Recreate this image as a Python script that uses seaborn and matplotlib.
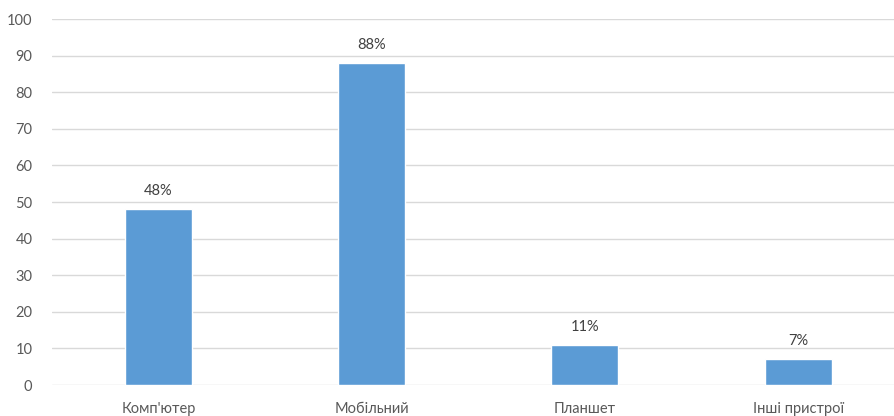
import matplotlib
matplotlib.use('Agg')
import matplotlib.pyplot as plt
import seaborn as sns
import pandas as pd

# data
devices = ["Комп'ютер", "Мобільний", "Планшет", "Інші пристрої"]
shares = [48, 88, 11, 7]
labels = ["48%", "88%", "11%", "7%"]

sns.set_style('white')
plt.rcParams['font.family'] = ['Lato', 'DejaVu Sans']

df = pd.DataFrame({'device': devices, 'share': shares})

fig = plt.figure(figsize=(8.94, 4.16), dpi=100)
ax = fig.add_axes([0.058, 0.0745, 0.954, 0.8795])
sns.barplot(data=df, x='device', y='share', color='#5B9BD5', width=0.315,
            saturation=1, ax=ax, zorder=3)

ax.set_ylim(0, 100)
ax.set_xlim(-0.5, 3.5)
ax.set_yticks(range(0, 101, 10))
ax.yaxis.grid(True, color='#D9D9D9', linewidth=1, zorder=0)
ax.set_axisbelow(True)
for s in ax.spines.values():
    s.set_visible(False)
ax.tick_params(axis='both', length=0, colors='#595959', labelsize=10.5)
ax.tick_params(axis='y', pad=14)
ax.tick_params(axis='x', pad=12)
ax.set_xlabel('')
ax.set_ylabel('')

for i, (v, t) in enumerate(zip(shares, labels)):
    ax.text(i, v + 3, t, ha='center', va='bottom', fontsize=10.5, color='#404040')

fig.savefig('out.png', dpi=100)
